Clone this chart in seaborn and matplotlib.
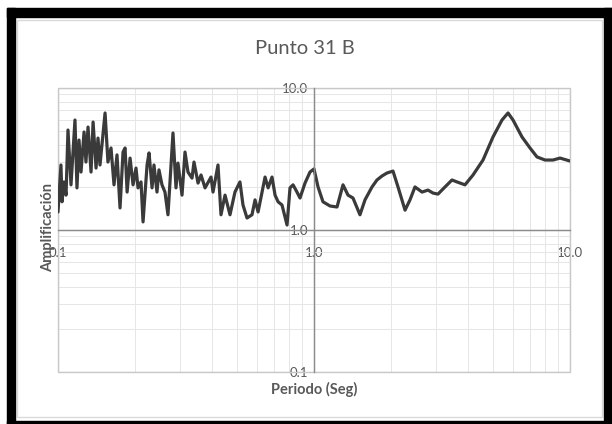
import numpy as np
import pandas as pd
import seaborn as sns
import matplotlib.pyplot as plt
from matplotlib.patches import Rectangle
from matplotlib.ticker import FixedLocator, LogLocator, NullFormatter

# Datos (Periodo en seg, Amplificacion)
periodo = [0.100, 0.1027, 0.1037, 0.1055, 0.1075, 0.1094, 0.1124, 0.1165, 0.1186, 0.1208,
           0.1230, 0.1264, 0.1286, 0.1310, 0.1346, 0.1371, 0.1408, 0.1433, 0.1459, 0.1527,
           0.1567, 0.1611, 0.1655, 0.1700, 0.1747, 0.1795, 0.1828, 0.1862, 0.1912, 0.1964,
           0.2017, 0.2054, 0.2110, 0.2149, 0.2228, 0.2268, 0.2330, 0.2371, 0.2436, 0.2480,
           0.2548, 0.2617, 0.2689, 0.2813, 0.2890, 0.2942, 0.3051, 0.3134, 0.3219, 0.3338,
           0.3398, 0.3524, 0.3620, 0.3753, 0.3961, 0.4032, 0.4217, 0.4332, 0.4492, 0.4697,
           0.4912, 0.5137, 0.5280, 0.5474, 0.5725, 0.5884, 0.6047, 0.6439, 0.6618, 0.6855,
           0.7045, 0.7240, 0.7499, 0.7846, 0.8059, 0.8282, 0.8580, 0.8818, 0.9223, 0.9647,
           1.000, 1.037, 1.084, 1.155, 1.230, 1.298, 1.358, 1.420, 1.512, 1.582,
           1.685, 1.762, 1.843, 1.928, 2.035, 2.129, 2.268, 2.371, 2.480, 2.642,
           2.788, 2.917, 3.050, 3.249, 3.460, 3.619, 3.889, 4.180, 4.573, 5.003,
           5.425, 5.727, 5.990, 6.494, 6.980, 7.432, 7.987, 8.583, 9.141, 10.0]
amplificacion = [1.34, 2.87, 1.58, 2.18, 1.76, 5.06, 2.08, 5.95, 1.98, 4.30,
                 2.56, 4.90, 3.01, 5.31, 2.56, 5.76, 2.73, 4.44, 2.87, 6.67,
                 3.01, 3.78, 2.08, 3.38, 1.43, 3.54, 3.78, 1.85, 3.21, 2.08,
                 2.73, 1.98, 2.18, 1.14, 2.87, 3.49, 1.98, 2.87, 1.85, 2.65,
                 2.08, 1.85, 1.28, 4.82, 1.98, 2.96, 1.76, 3.54, 2.56, 2.32,
                 3.01, 2.14, 2.44, 1.98, 2.36, 1.85, 2.87, 1.28, 1.76, 1.28,
                 1.85, 2.18, 1.50, 1.215, 1.28, 1.63, 1.34, 2.36, 1.98, 2.36,
                 1.76, 1.58, 1.50, 1.084, 1.98, 2.08, 1.85, 1.68, 2.14, 2.56,
                 2.69, 2.01, 1.58, 1.476, 1.452, 2.08, 1.76, 1.68, 1.28, 1.63,
                 2.01, 2.25, 2.40, 2.52, 2.60, 2.01, 1.38, 1.63, 2.01, 1.85,
                 1.91, 1.82, 1.79, 2.01, 2.25, 2.18, 2.08, 2.44, 3.11, 4.52,
                 5.95, 6.67, 5.95, 4.52, 3.78, 3.27, 3.11, 3.11, 3.21, 3.06]
etiquetas = ["0.1", "1.0", "10.0"]
valores_eje = [0.1, 1.0, 10.0]

df = pd.DataFrame({"Periodo": periodo, "Amplificacion": amplificacion})

sns.set_style("white")
plt.rcParams["font.family"] = ["Lato", "DejaVu Sans"]

fig = plt.figure(figsize=(6.12, 4.24), dpi=100)
W, H = 612, 424
ax = fig.add_axes([58 / W, 1 - 372 / H, 512 / W, 284 / H])

sns.lineplot(data=df, x="Periodo", y="Amplificacion", ax=ax, color="#3a3a3a",
             linewidth=2.3, estimator=None, sort=False)

ax.set_xscale("log")
ax.set_yscale("log")
ax.set_xlim(0.1, 10)
ax.set_ylim(0.1, 10)

# rejilla mayor y menor como en Excel
for eje in (ax.xaxis, ax.yaxis):
    eje.set_major_locator(FixedLocator(valores_eje))
    eje.set_minor_locator(LogLocator(base=10, subs=np.arange(2, 10)))
    eje.set_minor_formatter(NullFormatter())
ax.set_xticklabels(etiquetas)
ax.set_yticklabels(etiquetas)
ax.grid(True, which="major", color="#d0d0d0", linewidth=0.9)
ax.grid(True, which="minor", color="#e6e6e6", linewidth=0.7)
ax.tick_params(which="both", length=0)
ax.tick_params(axis="x", pad=12, labelsize=9.5, labelcolor="#595959")
ax.tick_params(axis="y", pad=4, labelsize=9.5, labelcolor="#595959")

# ejes que se cruzan en 1.0
ax.spines["left"].set_position(("data", 1))
ax.spines["bottom"].set_position(("data", 1))
for s in ("left", "bottom"):
    ax.spines[s].set_color("#8c8c8c")
    ax.spines[s].set_linewidth(1.0)
for s in ("top", "right"):
    ax.spines[s].set_visible(False)
ax.add_patch(Rectangle((0, 0), 1, 1, transform=ax.transAxes, fill=False,
                       edgecolor="#c8c8c8", linewidth=1.0, clip_on=False))
ax.set_xlabel("")
ax.set_ylabel("")

fig.text(305 / W, 1 - 48 / H, "Punto 31 B", ha="center", va="center",
         fontsize=14.5, color="#595959")
fig.text(48 / W, 1 - 228 / H, "Amplificación", rotation=90, ha="center", va="center",
         fontsize=10.5, fontweight="bold", color="#595959")
fig.text(314 / W, 1 - 389 / H, "Periodo (Seg)", ha="center", va="center",
         fontsize=10.5, fontweight="bold", color="#595959")

# marco negro de la captura
negro = dict(transform=fig.transFigure, color="black", zorder=10)
fig.add_artist(Rectangle((7 / W, 0), 8 / W, 1 - 8 / H, **negro))
fig.add_artist(Rectangle((604 / W, 0), 8 / W, 1 - 8 / H, **negro))
fig.add_artist(Rectangle((7 / W, 1 - 17 / H), 605 / W, 9 / H, **negro))
fig.add_artist(Rectangle((7 / W, 0), 605 / W, 3 / H, **negro))
fig.add_artist(Rectangle((17 / W, 7 / H), 585 / W, 1 - 27 / H, transform=fig.transFigure,
                         fill=False, edgecolor="#d9d9d9", linewidth=1.0))

fig.savefig("out.png", dpi=100)
